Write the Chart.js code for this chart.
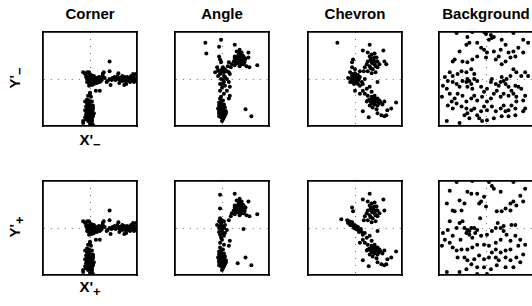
<!DOCTYPE html>
<html>
<head>
<meta charset="utf-8">
<script src="https://cdn.jsdelivr.net/npm/chart.js@4/dist/chart.umd.min.js"></script>
<style>
  body { margin: 0; background: #fff; }
  #wrap { position: relative; width: 532px; height: 306px; overflow: hidden; font-family: "Liberation Sans", Arial, sans-serif; }
  canvas { position: absolute; }
  .lbl { position: absolute; font-weight: bold; font-size: 15px; line-height: 16px; text-align: center; color: #000; }
  .lbl sub { font-size: 13px; vertical-align: -4px; line-height: 0; }
  .rot { transform: rotate(-90deg); }
</style>
</head>
<body>
<div id="wrap">
  <div class="lbl" style="left:40px;top:6px;width:100px">Corner</div>
  <div class="lbl" style="left:172px;top:6px;width:100px">Angle</div>
  <div class="lbl" style="left:305px;top:6px;width:100px">Chevron</div>
  <div class="lbl" style="left:436px;top:6px;width:100px">Background</div>
  <div class="lbl rot" style="left:-10px;top:70px;width:50px">Y'<sub>−</sub></div>
  <div class="lbl rot" style="left:-10px;top:219px;width:50px">Y'<sub>+</sub></div>
  <div class="lbl" style="left:60px;top:132px;width:60px">X'<sub>−</sub></div>
  <div class="lbl" style="left:60px;top:279px;width:60px">X'<sub>+</sub></div>
  <canvas id="c1"></canvas><canvas id="c2"></canvas><canvas id="c3"></canvas><canvas id="c4"></canvas>
  <canvas id="c5"></canvas><canvas id="c6"></canvas><canvas id="c7"></canvas><canvas id="c8"></canvas>
</div>
<script>
// point clouds, [x, y], axis range -48..48
const cornerMinus = [
  [-7,7],[-5,5],[-3,7],[-1,7],[1,4],[-2,3],[-4,2],[-3,0],[0,1],[2,-1],[3,0],[5,-2],[7,-1],[8,-3],[10,0],[12,2],[13,3],
  [3,-3],[0,-4],[2,-6],[-2,-3],[6,1],[7,-4],[9,2],[11,-2],[13,5],[14,7],[-3,-3],[4,3],[3,-3],[1,-2],[5,0],[9,-1],[-1,-1],
  [1,2],[4,-1],[6,-2],[-2,0],[8,1],[10,-3],[12,-1],[15,1],[2,3],[-1,-4],[4,-5],
  [17,-3],[18,-2],[20,0],[20,8],[22,-1],[23,1],[25,2],[27,0],[28,3],[29,6],[30,-1],[32,1],[33,-2],[35,2],[36,0],[37,-1],
  [38,2],[39,-2],[40,1],[42,3],[43,0],[44,5],[45,2],[46,-1],[45,-3],[37,-5],[35,-6],[30,-4],[21,-6],[33,3],[41,-3],[47,5],
  [26,-1],[31,1],[34,0],[39,0],[41,1],[24,0],[36,-2],[32,-1],[44,-1],[29,1],
  [20,18],[6,-12],[10,-12],[0,-15],[-1,-7],
  [0,-14],[-2,-17],[1,-18],[-3,-21],[-1,-22],[2,-23],[-5,-23],[-3,-25],[0,-26],[3,-27],[-4,-28],[-2,-29],[1,-30],[3,-31],
  [-5,-32],[-3,-33],[0,-33],[2,-34],[4,-35],[-4,-36],[-2,-37],[1,-37],[3,-38],[-5,-39],[-3,-40],[0,-41],[2,-42],[-7,-43],
  [-2,-43],[2,-44],[-7,-45],[0,-46],[3,-47],[-1,-27],[-3,-38],[2,-32],[-1,-35],[1,-39],[-4,-33],[3,-37],[-2,-24],[0,-30],
  [-3,-31],[1,-34],[-1,-37],[2,-40],[-4,-41],[0,-36],[-2,-34],[3,-29],[-1,-42]
];
const cornerPlus = [
  [-7,7],[-5,5],[-3,7],[-1,7],[1,4],[-2,3],[-4,2],[-3,0],[0,1],[2,-1],[3,0],[5,-2],[7,-1],[8,-3],[10,0],[12,2],[13,3],
  [3,-3],[0,-4],[2,-6],[-2,-3],[6,1],[7,-4],[9,2],[11,-2],[13,5],[14,7],[-3,-3],[4,3],[3,-3],[1,-2],[5,0],[9,-1],[-1,-1],
  [1,2],[4,-1],[6,-2],[-2,0],[8,1],[10,-3],[12,-1],[15,1],[2,3],[-1,-4],[4,-5],
  [17,-3],[18,-2],[20,0],[20,8],[22,-1],[23,1],[25,2],[27,0],[28,3],[29,6],[30,-1],[32,1],[33,-2],[35,2],[36,0],[37,-1],
  [38,2],[39,-2],[40,1],[42,3],[43,0],[44,5],[45,2],[46,-1],[45,-3],[37,-5],[35,-6],[30,-4],[21,-6],[33,3],[41,-3],[47,5],
  [26,-1],[31,1],[34,0],[39,0],[41,1],[24,0],[36,-2],[32,-1],[44,-1],[29,1],
  [20,18],[6,-12],[10,-12],[0,-15],[-1,-7],
  [0,-14],[-2,-17],[1,-18],[-3,-21],[-1,-22],[2,-23],[-5,-23],[-3,-25],[0,-26],[3,-27],[-4,-28],[-2,-29],[1,-30],[3,-31],
  [-5,-32],[-3,-33],[0,-33],[2,-34],[4,-35],[-4,-36],[-2,-37],[1,-37],[3,-38],[-5,-39],[-3,-40],[0,-41],[2,-42],[-7,-43],
  [-2,-43],[2,-44],[-7,-45],[0,-46],[3,-47],[-1,-27],[-3,-38],[2,-32],[-1,-35],[1,-39],[-4,-33],[3,-37],[-2,-24],[0,-30],
  [-3,-31],[1,-34],[-1,-37],[2,-40],[-4,-41],[0,-36],[-2,-34],[3,-29],[-1,-42]
];
const angleMinus = [
  [-17,37],[-16,26],[-3,33],[-1,40],[13,35],[27,27],[36,14],[24,-31],[30,-38],
  [15,28],[18,30],[20,27],[17,25],[13,23],[22,23],[18,22],[15,20],[20,18],[23,19],[12,18],[17,17],[22,15],[25,13],
  [13,14],[10,15],[9,12],[18,13],[28,12],[23,17],[16,23],[21,21],[13,21],[7,17],[6,13],[27,22],[19,24],[16,16],[20,15],
  [19,20],[21,24],[17,19],[14,17],[24,21],[18,27],
  [3,10],[5,8],[7,7],[2,7],[8,5],
  [-3,23],[-2,20],[-1,17],[-5,12],[-7,7],[-3,8],[0,10],[-2,5],[-4,3],[2,3],[3,2],[-1,0],[5,0],[2,-3],[7,-3],[-2,-5],
  [3,-7],[8,-8],[0,-9],[5,-12],[-2,-12],[8,-17],[2,-15],[-1,-18],[7,-20],[0,-5],[1,-1],[-1,7],[1,12],[-4,9],
  [-2,-20],[1,-22],[-3,-24],[-1,-25],[2,-26],[-3,-27],[0,-28],[3,-29],[-4,-30],[-1,-31],[1,-32],[4,-33],[-3,-33],
  [-1,-34],[2,-35],[-2,-37],[0,-38],[3,-37],[-1,-39],[1,-41],[0,-43],[-3,-38],[4,-35],[-2,-29],[1,-36],[-1,-23],
  [-2,-32],[0,-34],[2,-30],[-1,-36],[1,-27],[-3,-35],[2,-39]
];
const anglePlus = [
  [-2,34],[13,35],[-2,20],[27,27],[36,14],[22,-1],[24,-30],[30,-38],[16,-36],[8,-13],[7,-18],[9,12],[7,8],
  [15,28],[18,30],[20,27],[17,25],[13,23],[22,23],[18,22],[15,20],[20,18],[23,19],[12,18],[17,17],[22,15],[25,13],
  [13,14],[10,15],[18,13],[28,12],[23,17],[16,23],[21,21],[13,21],[19,24],[16,16],[20,15],
  [19,20],[21,24],[17,19],[14,17],[24,21],[18,27],
  [-2,10],[0,8],[-3,7],[2,7],[-5,3],[-1,3],[3,3],[-3,0],[2,0],[5,-2],[0,-3],[-3,-4],[3,-5],[-2,-7],[2,-8],[0,-12],
  [-2,-15],[2,-17],[-1,5],[1,1],[-2,1],[0,-1],[1,-6],[-1,-10],
  [-2,-20],[1,-22],[-3,-24],[-1,-25],[2,-26],[-3,-27],[0,-28],[3,-29],[-4,-30],[-1,-31],[1,-32],[4,-33],[-3,-33],
  [-1,-34],[2,-35],[-2,-37],[0,-38],[3,-37],[-1,-39],[1,-41],[0,-43],[-3,-38],[4,-35],[-2,-29],[1,-36],[-1,-23],
  [-2,-32],[0,-34],[2,-30],[-1,-36],[1,-27],[-3,-35],[2,-39]
];
const chevronMinus = [
  [-18,37],[15,35],[8,29],[29,29],
  [13,27],[17,25],[20,26],[15,23],[18,21],[22,22],[23,18],[13,18],[17,17],[20,15],[12,15],[15,13],[23,12],[18,10],
  [13,8],[21,7],[17,6],[25,15],[30,18],[32,15],[10,12],[9,8],[19,19],[16,20],[21,13],[18,16],[20,22],[16,11],[22,18],
  [-5,7],[-3,5],[0,6],[3,4],[-3,3],[-1,2],[2,1],[5,2],[-4,0],[-2,-2],[1,-3],[3,-2],[7,-3],[-1,-5],[3,-5],[5,-7],
  [8,-5],[-3,-3],[10,0],[-3,17],[-2,20],[-3,12],[0,10],[5,8],[-7,1],[-5,-3],[0,0],[1,3],[-2,1],[2,-1],[4,0],[-1,-1],
  [8,-12],[12,-10],[10,-15],[0,-12],[15,-8],[23,-3],[17,-13],[5,-15],
  [13,-17],[17,-18],[20,-17],[23,-20],[15,-21],[18,-22],[22,-23],[26,-24],[12,-23],[17,-25],[20,-26],[23,-27],
  [28,-26],[15,-27],[18,-29],[22,-31],[13,-22],[25,-22],[30,-23],[21,-20],[19,-24],[16,-23],[20,-22],[24,-25],[18,-19],
  [8,-33],[14,-39],[27,-37],[32,-37],[33,-32],[37,-30],[42,-24],[23,-35],[30,-38]
];
const chevronPlus = [
  [15,35],[8,29],[29,29],[-3,21],[-2,17],
  [13,27],[17,25],[20,26],[15,23],[18,21],[22,22],[23,18],[13,18],[17,17],[20,15],[12,15],[15,13],[23,12],[18,10],
  [13,8],[21,7],[17,6],[25,15],[30,18],[10,12],[9,8],[19,19],[16,20],[21,13],[18,16],[20,22],[16,11],[22,18],
  [-14,9],[-8,8],[-7,6],[-5,5],[-3,3],[-2,2],[0,1],[2,0],[3,-2],[5,-3],[7,-4],[-6,7],[-4,4],[-1,3],[1,-1],[3,1],
  [4,-4],[-3,6],[-7,5],[8,-7],[10,-5],[-5,3],[-1,0],[-4,6],[1,2],[6,-1],
  [8,-12],[12,-10],[10,-15],[15,-8],[23,-3],[17,-13],[5,-15],
  [13,-17],[17,-18],[20,-17],[23,-20],[15,-21],[18,-22],[22,-23],[26,-24],[12,-23],[17,-25],[20,-26],[23,-27],
  [28,-26],[15,-27],[18,-29],[22,-31],[13,-22],[25,-22],[30,-23],[21,-20],[19,-24],[16,-23],[20,-22],[24,-25],[18,-19],
  [8,-33],[14,-39],[27,-37],[32,-37],[33,-32],[37,-30],[42,-24],[23,-35],[30,-38]
];
const backgroundMinus = [
  [-30,47],[-14,48],[0,46],[5,45],[6,42],[3,40],[8,43],[28,47],[-17,37],[-20,35],[-9,37],[-27,28],[-34,18],[-32,20],
  [-24,18],[-19,17],[-5,32],[-2,30],[1,27],[0,22],[8,28],[16,40],[20,35],[15,30],[13,23],[10,20],[20,18],[16,15],
  [23,27],[28,28],[33,32],[38,27],[30,23],[25,22],[40,7],[28,10],[31,7],[36,3],[43,3],[-37,7],[-34,3],[-29,5],
  [-25,8],[-20,7],[-15,10],[-12,5],[-42,2],[-39,-2],[-44,-7],[-40,-10],[-45,-18],[-37,-15],[-34,-3],[-30,-5],
  [-27,-8],[-24,-2],[-20,-3],[-19,0],[-17,-2],[-15,-5],[-12,0],[-9,-2],[-19,-8],[-14,-10],[-5,-8],[-2,-13],[1,-10],
  [5,-3],[6,0],[10,-5],[13,-7],[16,2],[15,-3],[18,-2],[21,0],[25,3],[20,-5],[23,-8],[26,-12],[30,-7],[33,-8],
  [36,-10],[40,-17],[28,-15],[31,-18],[23,-17],[18,-15],[15,-18],[11,-12],[8,-15],[5,-20],[1,-23],[-4,-18],
  [-9,-22],[-12,-17],[-15,-20],[-20,-23],[-24,-17],[-29,-15],[-32,-20],[-35,-23],[-30,-25],[-25,-28],[-20,-30],
  [-19,-35],[-15,-32],[-12,-30],[-9,-37],[-5,-33],[-2,-28],[1,-32],[6,-28],[10,-33],[15,-30],[18,-27],[20,-33],
  [23,-32],[26,-27],[30,-30],[31,-23],[38,-22],[40,-30],[38,-33],[30,-37],[23,-38],[16,-38],[8,-40],[1,-42],
  [-4,-43],[-7,-40],[-17,-40],[-22,-37],[-27,-45],[-40,-43],[-34,-30],[-39,-27],[-2,48],[-19,43],[-9,23],[-14,20],
  [38,40],[43,37]
];
const backgroundPlus = [
  [-30,47],[-14,48],[3,47],[6,43],[28,47],[8,40],[-19,37],[-15,35],[-37,38],[-27,28],[-22,25],[-9,35],[-2,32],
  [-5,27],[0,22],[-7,25],[15,37],[20,20],[16,17],[11,17],[25,25],[28,27],[35,33],[38,27],[31,23],[25,18],[30,3],
  [26,3],[18,2],[-34,18],[-32,17],[-25,18],[-24,7],[-27,5],[-37,7],[-39,-2],[-44,-5],[-42,-12],[-45,-18],[-37,-15],
  [-34,-8],[-30,0],[-22,0],[-19,-2],[-15,0],[-12,0],[-9,-2],[-20,-5],[-17,-7],[-14,-10],[-5,-8],[1,-7],[6,-3],
  [10,0],[15,0],[18,-3],[21,-7],[15,-12],[10,-15],[25,-13],[30,-8],[35,-12],[40,-17],[33,-18],[25,-22],[20,-23],
  [15,-25],[10,-22],[3,-18],[-2,-17],[-9,-17],[-14,-20],[-19,-22],[-25,-22],[-30,-23],[-34,-20],[-29,-30],[-22,-30],
  [-19,-33],[-12,-32],[-7,-28],[-2,-32],[3,-30],[10,-30],[13,-33],[20,-30],[25,-33],[31,-30],[38,-27],[35,-35],
  [28,-40],[20,-40],[11,-38],[5,-42],[-2,-40],[-9,-40],[-15,-37],[-20,-42],[-27,-45],[-40,-45],[-9,-47],[1,-47],
  [-17,-3],[-26,-12],[-11,-5],[6,-25],[40,40],[-40,25],[12,5],[-6,10]
];

// id, left, top, right frame shown, points
const panels = [
  ['c1', 42, 31, true, cornerMinus], ['c2', 174, 31, true, angleMinus], ['c3', 307, 31, true, chevronMinus], ['c4', 438, 31, false, backgroundMinus],
  ['c5', 42, 180, true, cornerPlus], ['c6', 174, 180, true, anglePlus], ['c7', 307, 180, true, chevronPlus], ['c8', 438, 180, false, backgroundPlus]
];

const pad = 3;
const size = 96;

function zeroLine(ctx) {
  return ctx.tick && ctx.tick.value === 0 ? '#6f6f6f' : 'rgba(0,0,0,0)';
}

panels.forEach(function (p) {
  const canvas = document.getElementById(p[0]);
  canvas.width = size + 2 * pad;
  canvas.height = size + 2 * pad;
  canvas.style.left = (p[1] - pad) + 'px';
  canvas.style.top = (p[2] - pad) + 'px';

  const mainAxis = {
    type: 'linear', min: -48, max: 48,
    ticks: { display: false, stepSize: 48 },
    grid: { drawTicks: false, color: zeroLine, lineWidth: 1 },
    border: { display: true, color: '#000', width: 1.8, dash: [1, 6] }
  };
  const frameAxis = {
    type: 'linear', min: -48, max: 48,
    ticks: { display: false },
    grid: { display: false, drawTicks: false },
    border: { display: true, color: '#000', width: 1.8 }
  };

  new Chart(canvas, {
    type: 'scatter',
    data: {
      datasets: [{
        data: p[4].map(function (v) { return { x: v[0], y: v[1] }; }),
        pointRadius: 2,
        pointBackgroundColor: '#000',
        pointBorderWidth: 0
      }]
    },
    options: {
      responsive: false,
      animation: false,
      layout: { padding: pad },
      plugins: { legend: { display: false }, tooltip: { enabled: false } },
      scales: {
        x: Object.assign({ position: 'bottom' }, mainAxis),
        y: Object.assign({ position: 'left' }, mainAxis),
        x2: Object.assign({ position: 'top' }, frameAxis),
        y2: Object.assign({ position: 'right' }, frameAxis, { border: { display: p[3], color: '#000', width: 1.8 } })
      }
    }
  });
});
</script>
</body>
</html>
